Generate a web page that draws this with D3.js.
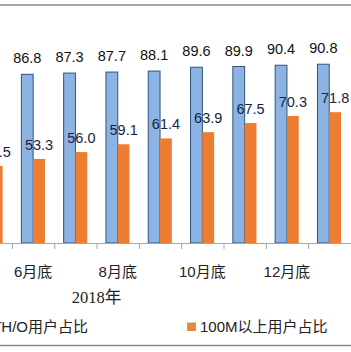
<!DOCTYPE html>
<html>
<head>
  <meta charset="utf-8">
  <title>FTTH/O and 100M share</title>
  <style>
    body, html { margin: 0; padding: 0; background: #fff; }
    svg { display: block; }
  </style>
</head>
<body>
  <svg id="svg" width="351" height="352"></svg>
  <script src="https://d3js.org/d3.v7.min.js"></script>
  <script>
    // months shown (the first and last are only partly in frame)
    const months = ["5月底", "6月底", "7月底", "8月底", "9月底", "10月底", "11月底", "12月底", "1月底"]
    const tickLabels = ["6月底", "8月底", "10月底", "12月底"]
    const ftthShare = [86.3, 86.8, 87.3, 87.7, 88.1, 89.6, 89.9, 90.4, 90.8]
    const m100Share = [50.5, 53.3, 56.0, 59.1, 61.4, 63.9, 67.5, 70.3, 71.8]
    const seriesNames = ["FTTH/O用户占比", "100M以上用户占比"]
    const yearLabel = "2018年"

    const width = 351
    const height = 352
    const baseY = 243
    const step = 42.3
    const x0 = 12 - step

    const svg = d3.select("#svg")

    const xScale = d3.scaleBand()
      .domain(months)
      .range([x0, x0 + step * months.length])
      .paddingInner(0)
      .paddingOuter(0)

    const barW = 11.8
    const xSub = d3.scaleBand()
      .domain(["ftth", "m100"])
      .range([xScale.bandwidth() / 2 - barW, xScale.bandwidth() / 2 + barW])

    const yScale = d3.scaleLinear()
      .domain([20, 100])
      .range([baseY, 41])

    // frame lines
    svg.append("line")
      .attr("x1", 0).attr("x2", width).attr("y1", 5).attr("y2", 5)
      .attr("stroke", "#8a8a8a").attr("stroke-width", 1.5)
    svg.append("line")
      .attr("x1", 0).attr("x2", width).attr("y1", 345.5).attr("y2", 345.5)
      .attr("stroke", "#8a8a8a").attr("stroke-width", 1.5)

    const rows = months.map((m, i) => ({ month: m, ftth: ftthShare[i], m100: m100Share[i] }))

    const groups = svg.append("g")
      .selectAll("g")
      .data(rows)
      .enter()
      .append("g")
      .attr("transform", d => `translate(${xScale(d.month)},0)`)

    groups.append("rect")
      .attr("x", xSub("ftth"))
      .attr("y", d => yScale(d.ftth))
      .attr("width", xSub.bandwidth())
      .attr("height", d => baseY - yScale(d.ftth))
      .attr("fill", "#8db3e2")
      .attr("stroke", "#2c5585")
      .attr("stroke-width", 1)

    groups.append("rect")
      .attr("x", xSub("m100"))
      .attr("y", d => yScale(d.m100))
      .attr("width", xSub.bandwidth())
      .attr("height", d => baseY - yScale(d.m100))
      .attr("fill", "#ed7d31")

    groups.append("text")
      .attr("x", xSub("ftth") + xSub.bandwidth() / 2)
      .attr("y", d => yScale(d.ftth) - 11)
      .attr("text-anchor", "middle")
      .attr("font-family", "Liberation Sans, Arial, sans-serif")
      .attr("font-size", 14.5)
      .attr("fill", "#111")
      .text(d => d.ftth.toFixed(1))

    groups.append("text")
      .attr("x", xSub("m100") + xSub.bandwidth() / 2)
      .attr("y", d => yScale(d.m100) - 9)
      .attr("text-anchor", "middle")
      .attr("font-family", "Liberation Sans, Arial, sans-serif")
      .attr("font-size", 14.5)
      .attr("fill", "#15243f")
      .text(d => d.m100.toFixed(1))

    // category axis
    const axis = svg.append("g")
    axis.append("line")
      .attr("x1", 0).attr("x2", width).attr("y1", baseY + 0.5).attr("y2", baseY + 0.5)
      .attr("stroke", "#a6a6a6")
    axis.selectAll(".tick")
      .data(months)
      .enter()
      .append("line")
      .attr("x1", d => xScale(d) + 0.5)
      .attr("x2", d => xScale(d) + 0.5)
      .attr("y1", baseY)
      .attr("y2", baseY + 6)
      .attr("stroke", "#a6a6a6")
    axis.selectAll(".lbl")
      .data(tickLabels)
      .enter()
      .append("text")
      .attr("x", d => xScale(d) + xScale.bandwidth() / 2)
      .attr("y", 277)
      .attr("text-anchor", "middle")
      .attr("font-family", "Liberation Sans, 'Noto Sans CJK SC', sans-serif")
      .attr("font-size", 15)
      .attr("fill", "#222")
      .text(d => d)

    // year label sits on the boundary of 7月底 / 8月底
    svg.append("text")
      .attr("x", xScale("8月底"))
      .attr("y", 303)
      .attr("text-anchor", "middle")
      .attr("font-family", "Liberation Serif, 'Noto Sans CJK SC', serif")
      .attr("font-size", 16.5)
      .attr("fill", "#222")
      .text(yearLabel)

    // legend
    const legend = svg.append("g")
    legend.append("text")
      .attr("x", 88)
      .attr("y", 332)
      .attr("text-anchor", "end")
      .attr("font-family", "Liberation Sans, 'Noto Sans CJK SC', sans-serif")
      .attr("font-size", 15)
      .attr("fill", "#222")
      .text(seriesNames[0])
    legend.append("rect")
      .attr("x", 187).attr("y", 322.5).attr("width", 9).attr("height", 8.5)
      .attr("fill", "#e08a45")
    legend.append("text")
      .attr("x", 200)
      .attr("y", 332)
      .attr("font-family", "Liberation Sans, 'Noto Sans CJK SC', sans-serif")
      .attr("font-size", 15)
      .attr("fill", "#222")
      .text(seriesNames[1])
  </script>
</body>
</html>
